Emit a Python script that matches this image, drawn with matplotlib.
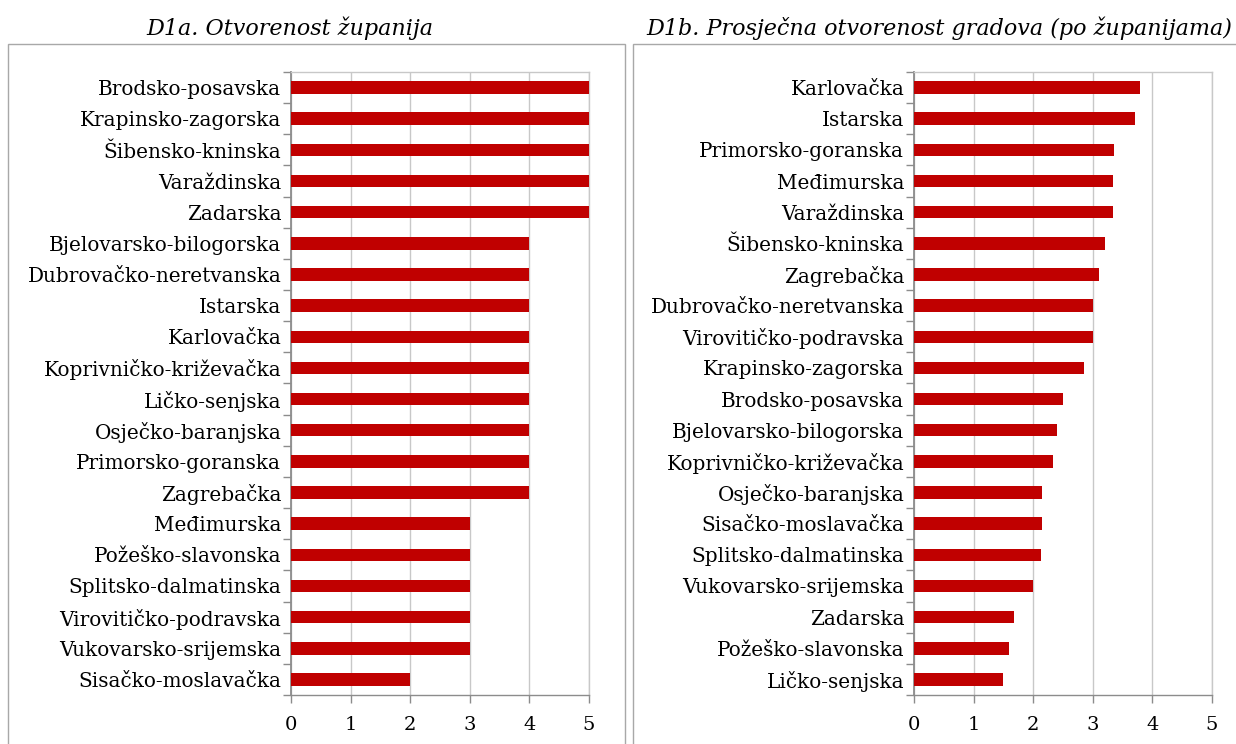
import matplotlib.pyplot as plt
from matplotlib.patches import Rectangle

left_title = "D1a. Otvorenost županija"
left_cats = ["Brodsko-posavska", "Krapinsko-zagorska", "Šibensko-kninska", "Varaždinska",
             "Zadarska", "Bjelovarsko-bilogorska", "Dubrovačko-neretvanska", "Istarska",
             "Karlovačka", "Koprivničko-križevačka", "Ličko-senjska", "Osječko-baranjska",
             "Primorsko-goranska", "Zagrebačka", "Međimurska", "Požeško-slavonska",
             "Splitsko-dalmatinska", "Virovitičko-podravska", "Vukovarsko-srijemska",
             "Sisačko-moslavačka"]
left_vals = [5, 5, 5, 5, 5, 4, 4, 4, 4, 4, 4, 4, 4, 4, 3, 3, 3, 3, 3, 2]

right_title = "D1b. Prosječna otvorenost gradova (po županijama)"
right_cats = ["Karlovačka", "Istarska", "Primorsko-goranska", "Međimurska", "Varaždinska",
              "Šibensko-kninska", "Zagrebačka", "Dubrovačko-neretvanska",
              "Virovitičko-podravska", "Krapinsko-zagorska", "Brodsko-posavska",
              "Bjelovarsko-bilogorska", "Koprivničko-križevačka", "Osječko-baranjska",
              "Sisačko-moslavačka", "Splitsko-dalmatinska", "Vukovarsko-srijemska",
              "Zadarska", "Požeško-slavonska", "Ličko-senjska"]
right_vals = [3.80, 3.70, 3.36, 3.34, 3.34, 3.20, 3.11, 3.00, 3.00, 2.86, 2.50, 2.40,
              2.33, 2.15, 2.15, 2.13, 2.00, 1.67, 1.60, 1.50]

x_ticks = [0, 1, 2, 3, 4, 5]

W, H = 1236, 744
fig = plt.figure(figsize=(W / 100, H / 100), dpi=100)
plt.rcParams['font.family'] = ['DejaVu Serif']

BAR = '#C00000'
SPINE = '#8c8c8c'
GRID = '#c8c8c8'


def fx(px):
    return px / W


def fy(py):
    return 1 - py / H


def panel(box_x0, box_x1, ax_x0, ax_x1, title_x, title, cats, vals):
    fig.patches.append(Rectangle((fx(box_x0), fy(H + 5)), fx(box_x1 - box_x0), fy(44) - fy(H + 5),
                                 transform=fig.transFigure, fill=False, edgecolor='#a8a8a8',
                                 lw=1.0))
    fig.text(fx(title_x), fy(28), title, ha='center', va='center', fontsize=16,
             style='italic')
    ax = fig.add_axes([fx(ax_x0), fy(695), fx(ax_x1 - ax_x0), fy(72) - fy(695)])
    n = len(cats)
    ys = list(range(n))
    ax.barh(ys, vals, height=0.4, color=BAR, zorder=3)
    ax.set_xlim(0, 5)
    ax.set_ylim(n - 0.5, -0.5)
    ax.set_xticks(x_ticks)
    ax.set_xticklabels([str(t) for t in x_ticks], fontsize=14)
    ax.set_yticks(ys)
    ax.set_yticklabels(cats, fontsize=14.4)
    ax.set_yticks([i - 0.5 for i in range(n + 1)], minor=True)
    ax.tick_params(axis='y', which='major', length=0, pad=7)
    ax.tick_params(axis='y', which='minor', length=6, color=SPINE, direction='out', width=1)
    ax.tick_params(axis='x', which='major', length=6, color=SPINE, direction='out', width=1,
                   pad=9)
    ax.grid(axis='x', color=GRID, lw=1, zorder=0)
    for s in ax.spines.values():
        s.set_color(GRID)
        s.set_linewidth(1)
    ax.spines['left'].set_color(SPINE)
    ax.spines['bottom'].set_color(SPINE)
    ax.spines['left'].set_linewidth(1.3)
    return ax


panel(8, 625, 291, 589, 290, left_title, left_cats, left_vals)
panel(633, 1245, 914, 1212, 939, right_title, right_cats, right_vals)

fig.savefig('out.png', dpi=100)
